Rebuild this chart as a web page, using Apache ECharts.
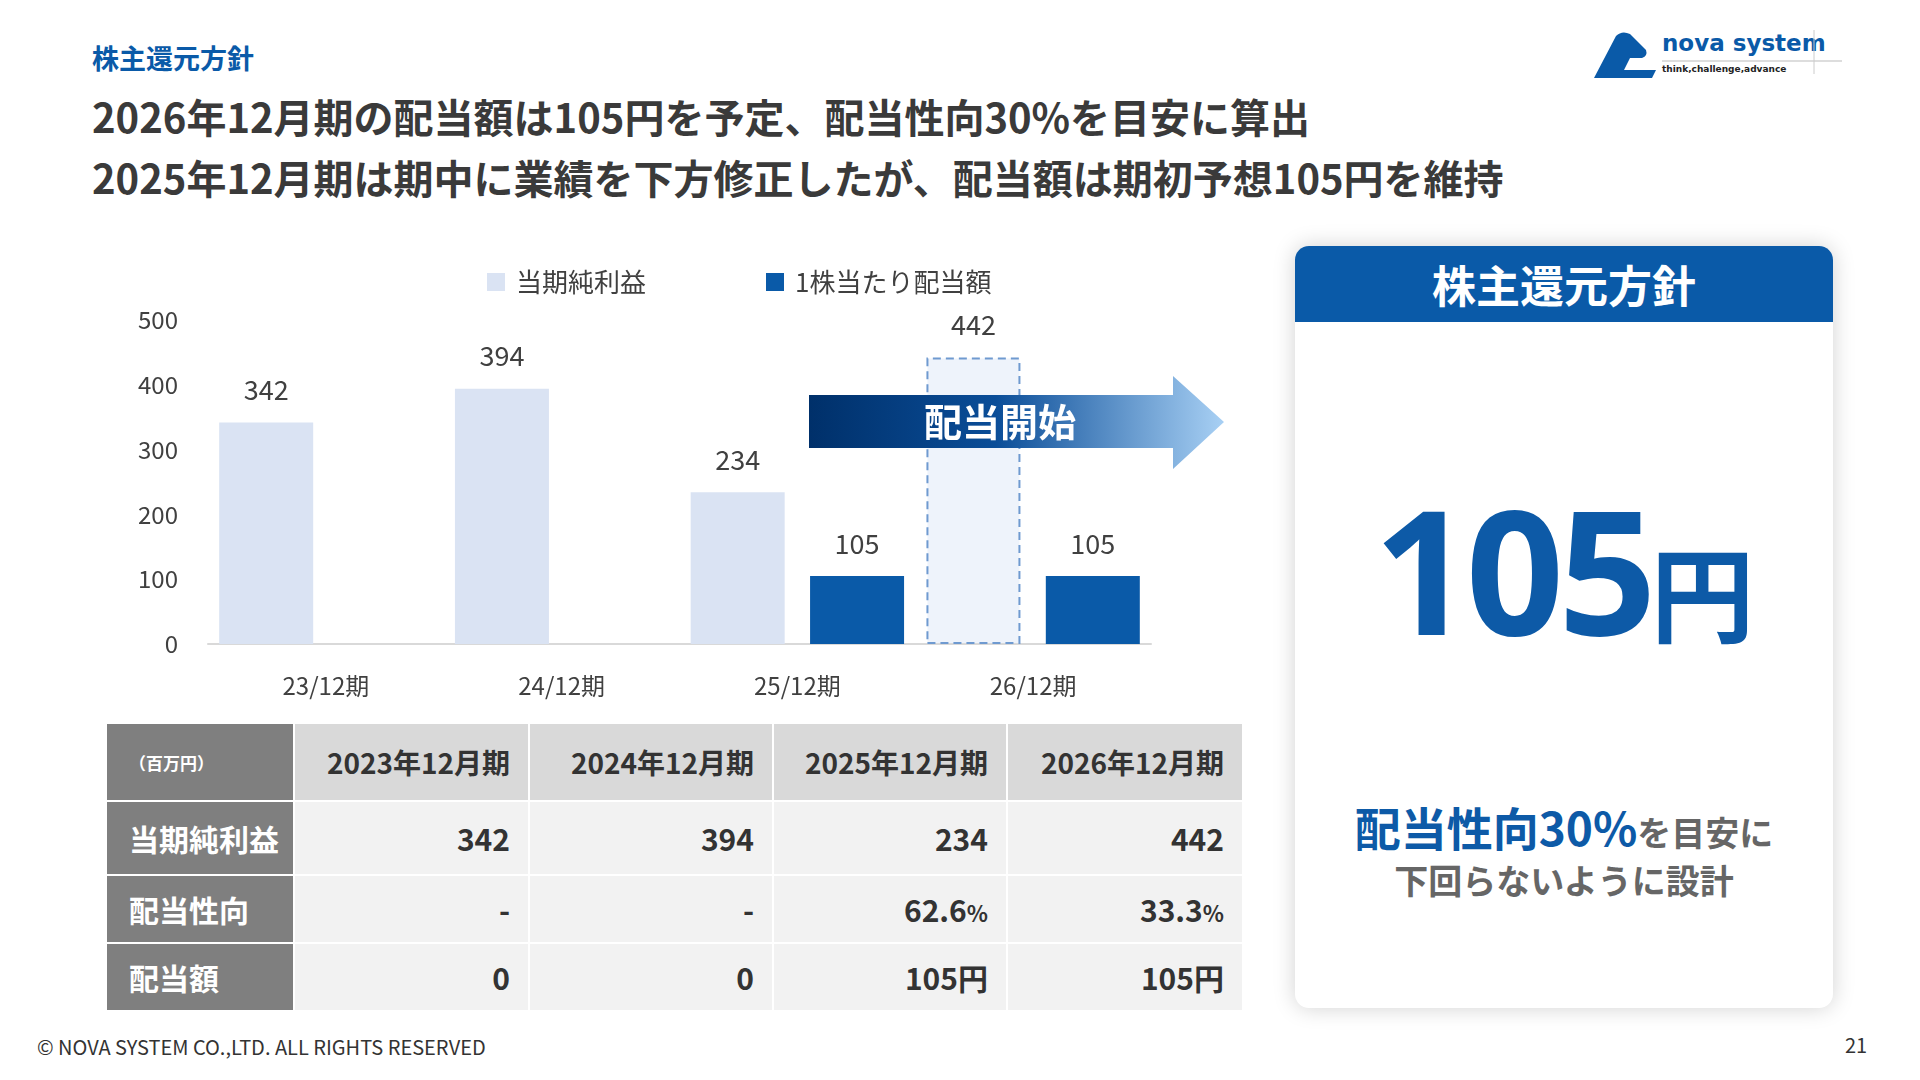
<!DOCTYPE html>
<html>
<head>
<meta charset="utf-8">
<title>株主還元方針</title>
<script src="https://cdn.jsdelivr.net/npm/echarts@6/dist/echarts.min.js"></script>
<style>
    body {margin:0;width:1920px;height:1080px;background:#fff;position:relative;overflow:hidden;
        font-family:"Noto Sans CJK JP","Noto Sans",sans-serif;color:#333;}
    .abs {position:absolute;}
    #sub {left:92px;top:38px;font-size:27px;font-weight:bold;color:#0a5aa8;}
    #title {left:92px;top:86px;font-size:40px;font-weight:bold;line-height:61px;color:#3a3a3a;}
    #main {left:0;top:240px;width:1260px;height:470px;}
    table {border-collapse:collapse;left:105px;top:722px;width:1137px;font-weight:bold;font-size:30px;table-layout:fixed;}
    td {height:70px;border:2px solid #fff;background:#f2f2f2;text-align:right;padding-right:18px;color:#333;}
    td.h {background:#7f7f7f;color:#fff;text-align:left;padding-left:22px;padding-right:0;}
    tr.head td {height:74px;background:#d9d9d9;font-size:28px;}
    tr.head td.h {background:#7f7f7f;font-size:17px;}
    tr.r2 td, tr.r3 td {height:64px;}
    small {font-size:22px;}
    #panel {left:1295px;top:246px;width:538px;height:762px;background:#fff;border-radius:14px;
        box-shadow:0 0 22px rgba(0,0,0,0.18);overflow:hidden;}
    #phead {height:76px;background:#0a5aa8;color:#fff;font-size:44px;font-weight:bold;text-align:center;line-height:76px;}
    #big {top:205px;width:100%;text-align:center;color:#0d5aa7;font-weight:bold;font-family:"Noto Sans","Noto Sans CJK JP",sans-serif;}
    #big .n {font-size:172px;letter-spacing:-6px;}
    #big .y {font-size:104px;}
    #note {top:556px;width:100%;text-align:center;font-weight:bold;color:#666;font-size:34px;line-height:48px;}
    #note .b {color:#0d5aa7;font-size:46px;}
    #foot {left:37px;top:1032px;font-size:20px;color:#333;}
    #page {left:1845px;top:1030px;font-size:20px;color:#333;}
    #logo {left:1586px;top:28px;width:256px;height:54px;}
</style>
</head>
<body>
<div class="abs" id="sub">株主還元方針</div>
<div class="abs" id="title">2026年12月期の配当額は105円を予定、配当性向30%を目安に算出<br>2025年12月期は期中に業績を下方修正したが、配当額は期初予想105円を維持</div>
<svg class="abs" id="logo" viewBox="0 0 256 54">
    <path d="M8 50 L30 8 Q36 2 44 6 L60 22 Q62 28 56 30 L44 30 L34 50 Z" fill="#0a5aa8"/>
    <path d="M18 50 L66 50 L70 42 L22 42 Z" fill="#0a5aa8"/>
    <text x="76" y="23" font-size="23" font-weight="bold" fill="#0a5aa8" font-family="DejaVu Sans">nova system</text>
    <text x="76" y="44" font-size="9" font-weight="bold" fill="#222" font-family="DejaVu Sans">think,challenge,advance</text>
    <line x1="76" y1="33" x2="256" y2="33" stroke="#bbb" stroke-width="1"/>
    <line x1="228" y1="2" x2="228" y2="46" stroke="#ccc" stroke-width="1"/>
</svg>
<div class="abs" id="main"></div>
<table class="abs" id="tbl"></table>
<div class="abs" id="panel">
    <div id="phead">株主還元方針</div>
    <div class="abs" id="big"><span class="n">105</span><span class="y">円</span></div>
    <div class="abs" id="note"><span class="b">配当性向30%</span>を目安に<br>下回らないように設計</div>
</div>
<div class="abs" id="foot">© NOVA SYSTEM CO.,LTD. ALL RIGHTS RESERVED</div>
<div class="abs" id="page">21</div>
<script>
    var categories = ['23/12期', '24/12期', '25/12期', '26/12期'];
    var netIncome = [342, 394, 234, 442];
    var dividend = ['-', '-', 105, 105];
    var yTicks = [0, 100, 200, 300, 400, 500];

    var tableHead = ['2023年12月期', '2024年12月期', '2025年12月期', '2026年12月期'];
    var rowIncome = ['342', '394', '234', '442'];
    var rowPayout = ['-', '-', '62.6<small>%</small>', '33.3<small>%</small>'];
    var rowDividend = ['0', '0', '105円', '105円'];
    var colWidths = [188, 235, 244, 234, 236];

    // 表
    var html = '<colgroup>' + colWidths.map(function (w) { return '<col style="width:' + w + 'px">'; }).join('') + '</colgroup>';
    html += '<tr class="head"><td class="h">（百万円）</td><td>' + tableHead.join('</td><td>') + '</td></tr>';
    html += '<tr><td class="h">当期純利益</td><td>' + rowIncome.join('</td><td>') + '</td></tr>';
    html += '<tr class="r2"><td class="h">配当性向</td><td>' + rowPayout.join('</td><td>') + '</td></tr>';
    html += '<tr class="r3"><td class="h">配当額</td><td>' + rowDividend.join('</td><td>') + '</td></tr>';
    document.getElementById('tbl').innerHTML = html;

    var incomeData = netIncome.map(function (v, i) {
        if (i == netIncome.length - 1) {
            return {value: v, itemStyle: {color: '#eef3fb', borderColor: '#6f9ad0', borderWidth: 2, borderType: [8, 5]}};
        }
        return v;
    });

    var myChart = echarts.init(document.getElementById('main'));
    var font = '"Noto Sans CJK JP","Noto Sans",sans-serif';
    myChart.setOption({
        animation: false,
        textStyle: {fontFamily: font},
        legend: {
            top: 24, left: 482, itemGap: 120, itemWidth: 18, itemHeight: 18, icon: 'rect',
            textStyle: {fontSize: 26, color: '#404040', padding: [0, 0, 0, 6]},
            data: [{name: '当期純利益', itemStyle: {color: '#dae3f3', borderWidth: 0}}, '1株当たり配当額']
        },
        grid: {left: 208, right: 109, top: 80, bottom: 66},
        xAxis: {
            type: 'category', data: categories,
            axisLine: {lineStyle: {color: '#d9d9d9', width: 2}},
            axisTick: {show: false},
            axisLabel: {fontSize: 24, color: '#404040', margin: 30}
        },
        yAxis: {
            type: 'value', min: yTicks[0], max: yTicks[yTicks.length - 1], interval: 100,
            splitLine: {show: false},
            axisLabel: {fontSize: 24, color: '#404040', margin: 30}
        },
        series: [
            {
                name: '当期純利益', type: 'bar', data: incomeData, barWidth: 94, barGap: '27%',
                itemStyle: {color: '#dae3f3'},
                label: {show: true, position: 'top', distance: 19, fontSize: 27, color: '#404040'}
            },
            {
                name: '1株当たり配当額', type: 'bar', data: dividend, barWidth: 94,
                itemStyle: {color: '#0a5aa8'},
                label: {show: true, position: 'top', distance: 19, fontSize: 27, color: '#404040'}
            }
        ],
        graphic: [
            {
                type: 'polygon', z: 100,
                shape: {points: [[809, 155], [1173, 155], [1173, 136], [1224, 182], [1173, 229], [1173, 208], [809, 208]]},
                style: {fill: new echarts.graphic.LinearGradient(0, 0, 1, 0, [
                    {offset: 0, color: '#00306a'}, {offset: 0.45, color: '#0a4d98'}, {offset: 1, color: '#a8d0f4'}])}
            },
            {
                type: 'text', z: 101, left: 924, top: 163,
                style: {text: '配当開始', fontSize: 38, fontWeight: 'bold', fill: '#fff', fontFamily: font}
            }
        ]
    });
</script>
</body>
</html>
